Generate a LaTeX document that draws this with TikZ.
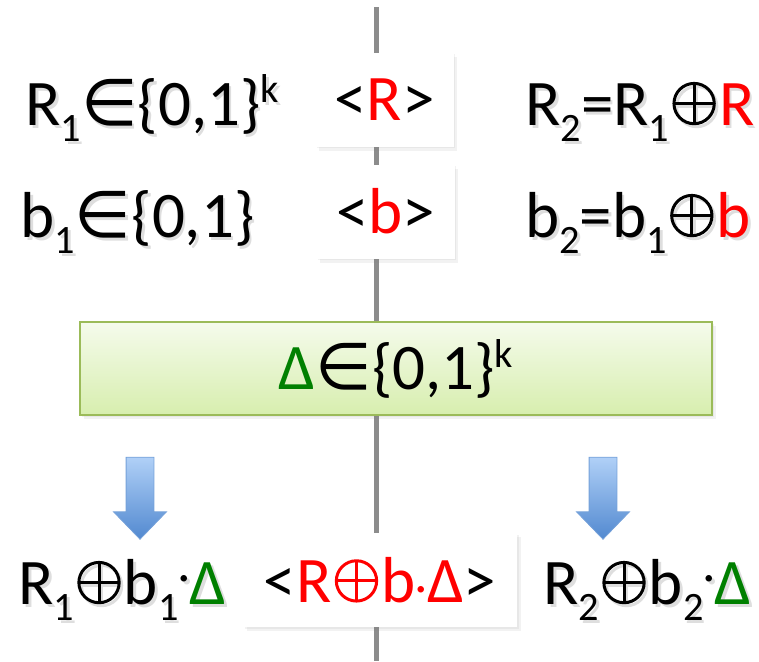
\documentclass[tikz,border=0pt]{standalone}
\usepackage{fontspec}
\setmainfont{Carlito}
\newfontfamily\symf{DejaVu Sans}
\usetikzlibrary{positioning,shapes.arrows,shadows}
\definecolor{Kr}{HTML}{FF0000}
\definecolor{Kg}{HTML}{008000}
\definecolor{Bt}{HTML}{B0D0F7}
\definecolor{Bb}{HTML}{5289D0}
\definecolor{Gt}{HTML}{F5FBEC}
\definecolor{Gb}{HTML}{D7EEAE}
\definecolor{Gd}{HTML}{9BBB59}
\newcommand\lo[1]{\raisebox{-0.26em}{\scalebox{0.62}{#1}}}
\newcommand\hi[1]{\raisebox{0.34em}{\scalebox{0.62}{#1}}}
\newcommand\xin{{\symf ∈}}
\newcommand\xor{\kern0.05em\tikz[baseline=0pt, line width=1.5pt]{%
  \draw (0,0.33em) circle (0.31em);
  \draw (-0.31em,0.33em) -- (0.31em,0.33em) (0,0.02em) -- (0,0.64em);}\kern0.05em}
\newcommand\cdt{\raisebox{0.2em}{\scalebox{0.7}{·}}}
% soft text shadow under a value
\newcommand\shd[1]{\rlap{\kern1.3pt\raisebox{-1.5pt}{\color{black!13}\renewcommand\color[1]{}#1}}#1}

\begin{document}
\begin{tikzpicture}[x=0.5pt, y=-0.5pt, font=\fontsize{32.5}{39}\selectfont,
    msg/.style={fill=white, inner sep=0pt, minimum width=69pt, minimum height=47pt,
      drop shadow={opacity=0.1, shadow xshift=0.8pt, shadow yshift=-0.9pt},
      drop shadow={opacity=0.1, shadow xshift=1.8pt, shadow yshift=-2pt}},
    val/.style={anchor=base west, inner sep=0pt},
    mask/.style={draw=Gd, line width=0.8pt, top color=Gt, bottom color=Gb,
      minimum width=316pt, minimum height=46.5pt,
      drop shadow={opacity=0.1, shadow xshift=0.8pt, shadow yshift=-0.9pt},
      drop shadow={opacity=0.1, shadow xshift=1.8pt, shadow yshift=-2pt}},
    down/.style={single arrow, rotate=-90, draw=Bb!80, line width=0.4pt,
      top color=Bt, bottom color=Bb, inner xsep=0pt, inner ysep=6.75pt,
      minimum width=26pt, minimum height=41pt,
      single arrow head extend=6.25pt, single arrow tip angle=88}]
  \useasboundingbox (0,0) rectangle (759,661);
  \coordinate (top) at (376.5,7);
  \coordinate (bot) at (376.5,661);
  \draw[line width=2.5pt, color=black!45] (top) -- (bot);
  % sender and receiver values
  \node[val] (r1) at (25,125) {\shd{R\lo{1}\xin\{0,1\}\hi{k}}};
  \node[val] (b1) at (20,237) {\shd{b\lo{1}\xin\{0,1\}}};
  \node[val] (r2) at (525,125) {\shd{R\lo{2}=R\lo{1}\xor{\color{Kr}R}}};
  \node[val] (b2) at (525,237) {\shd{b\lo{2}=b\lo{1}\xor{\color{Kr}b}}};
  % messages on the line
  \node[msg] (mR) at (384.5,99.5) {<{\color{Kr}R}>};
  \node[msg] (mb) at (385.5,211.5) {<{\color{Kr}b}>};
  \node[mask] (dl) at (396,368.5) {{\color{Kg}Δ}\xin\{0,1\}\hi{k}};
  \node[down] (aL) at (140,491) {};
  \node[down] (aR) at (603,491) {};
  \node[val] (o1) at (18,604) {\shd{R\lo{1}\xor b\lo{1}\cdt{\color{Kg}Δ}}};
  \node[val] (o2) at (543,604) {\shd{R\lo{2}\xor b\lo{2}\cdt{\color{Kg}Δ}}};
  \node[msg, minimum width=137pt] (mo) at (380,580)
    {<{\color{Kr}R\xor b\scalebox{0.7}{·}Δ}>};
\end{tikzpicture}
\end{document}
